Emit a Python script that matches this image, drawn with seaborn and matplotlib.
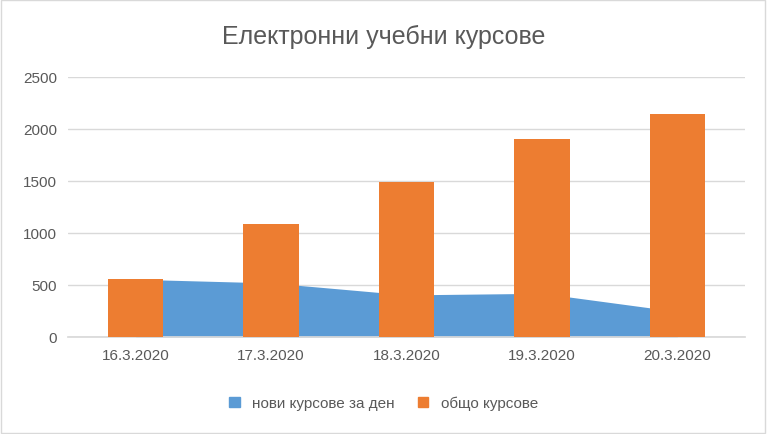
import matplotlib
matplotlib.use("Agg")
import matplotlib.pyplot as plt
import seaborn as sns
import pandas as pd
from matplotlib.patches import Patch

dates = ["16.3.2020", "17.3.2020", "18.3.2020", "19.3.2020", "20.3.2020"]
new_per_day = [555, 520, 405, 420, 245]
total = [558, 1087, 1490, 1904, 2144]
yticks = [0, 500, 1000, 1500, 2000, 2500]

sns.set_theme(style="white")
plt.rcParams['font.family'] = ['Calibri', 'Liberation Sans', 'DejaVu Sans']

fig = plt.figure(figsize=(7.67, 4.35), dpi=100)
ax = fig.add_axes([68/767, 1-338/435, (745-68)/767, 260/435])

x = list(range(len(dates)))
ax.fill_between(x, new_per_day, 0, color="#5B9BD5", zorder=2, linewidth=0)
df = pd.DataFrame({"date": dates, "total": total})
sns.barplot(data=df, x="date", y="total", color="#ED7D31", width=0.41,
            saturation=1, ax=ax, zorder=3, linewidth=0)
ax.set_xlim(-0.5, 4.5)
ax.set_ylim(0, 2500)
ax.set_yticks(yticks)
ax.yaxis.grid(True, color="#D9D9D9", linewidth=1)
ax.set_axisbelow(True)
for s in ["top", "right", "left"]:
    ax.spines[s].set_visible(False)
ax.spines["bottom"].set_color("#D9D9D9")
ax.tick_params(axis="both", colors="#595959", labelsize=11, length=0, pad=8)
ax.set_xlabel("")
ax.set_ylabel("")
fig.suptitle("Електронни учебни курсове", y=1-25/435, fontsize=18, color="#595959")
handles = [Patch(color="#5B9BD5"), Patch(color="#ED7D31")]
fig.legend(handles, ["нови курсове за ден", "общо курсове"], loc="center",
           bbox_to_anchor=(0.5, 1-404/435), ncol=2, frameon=False, fontsize=11,
           labelcolor="#595959", handlelength=0.7, handleheight=0.7, columnspacing=1.5)
fig.patches.append(plt.Rectangle((0.001, 0.002), 0.997, 0.996, transform=fig.transFigure,
                                 fill=False, edgecolor="#D9D9D9", linewidth=1))
fig.savefig("out.png", dpi=100)
